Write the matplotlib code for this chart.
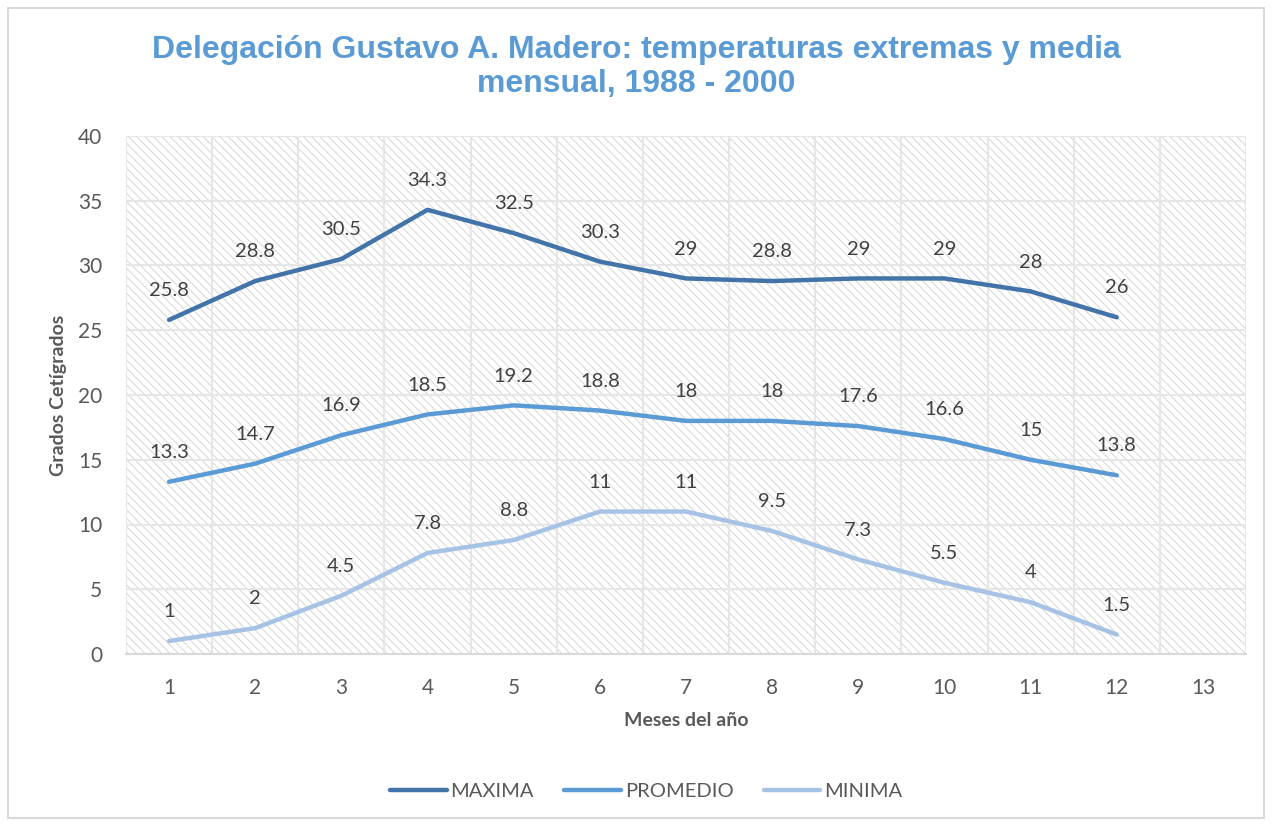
import matplotlib
matplotlib.use("Agg")
import matplotlib.pyplot as plt
from matplotlib.patches import Rectangle

months = list(range(1, 13))
maxima = [25.8, 28.8, 30.5, 34.3, 32.5, 30.3, 29, 28.8, 29, 29, 28, 26]
promedio = [13.3, 14.7, 16.9, 18.5, 19.2, 18.8, 18, 18, 17.6, 16.6, 15, 13.8]
minima = [1, 2, 4.5, 7.8, 8.8, 11, 11, 9.5, 7.3, 5.5, 4, 1.5]
x_ticks = list(range(1, 14))

series = [
    ("MAXIMA", maxima, "#4274AA"),
    ("PROMEDIO", promedio, "#5B9BD5"),
    ("MINIMA", minima, "#A6C3E6"),
]

plt.rcParams["font.family"] = ["Lato", "DejaVu Sans"]
plt.rcParams["hatch.linewidth"] = 0.8
text_color = "#595959"

fig = plt.figure(figsize=(12.72, 8.24), dpi=100)
# plot area in pixels: left 126, right 1246, top 136, bottom 654
ax = fig.add_axes([126 / 1272, 1 - 654 / 824, 1120 / 1272, 518 / 824])

# outer chart border
fig.patches.append(Rectangle((8 / 1272, 6 / 824), 1256 / 1272, 810 / 824,
                             transform=fig.transFigure, fill=False,
                             edgecolor="#d9d9d9", linewidth=1.5))

# hatched background
ax.add_patch(Rectangle((0, 0), 1, 1, transform=ax.transAxes, facecolor="white",
                       edgecolor="#dadada", hatch="\\\\\\\\", linewidth=0, zorder=0))

ax.set_xlim(0.5, 13.5)
ax.set_ylim(0, 40)
ax.set_yticks(range(0, 41, 5))
ax.set_xticks(x_ticks)
ax.set_xticks([i + 0.5 for i in range(0, 14)], minor=True)
ax.grid(True, which="minor", axis="x", color="#e6e6e6", linewidth=1.5, zorder=1)
ax.grid(True, which="major", axis="y", color="#e6e6e6", linewidth=1.5, zorder=1)
ax.tick_params(which="both", length=0, labelsize=15, labelcolor=text_color)
ax.tick_params(axis="x", pad=17)
ax.tick_params(axis="y", pad=17)
for s in ["top", "right", "left"]:
    ax.spines[s].set_visible(False)
ax.spines["bottom"].set_color("#d9d9d9")
ax.spines["bottom"].set_linewidth(1.5)

for name, vals, color in series:
    ax.plot(months, vals, color=color, linewidth=3.2, label=name,
            solid_capstyle="round", zorder=3)
    for m, v in zip(months, vals):
        ax.annotate(f"{v:g}", (m, v), xytext=(0, 15), textcoords="offset points",
                    ha="center", va="bottom", fontsize=14.5, color="#404040", zorder=4)

ax.set_xlabel("Meses del año", fontsize=14, fontweight="bold", color=text_color, labelpad=10)
ax.set_ylabel("Grados Cetígrados", fontsize=14, fontweight="bold", color=text_color, labelpad=8)

fig.text(0.5, 1 - 67 / 824,
         "Delegación Gustavo A. Madero: temperaturas extremas y media\nmensual, 1988 - 2000",
         ha="center", va="center", fontsize=23, fontweight="bold", color="#5B9BD5",
         family="Liberation Sans", linespacing=1.15)

leg = fig.legend(loc="center", bbox_to_anchor=(0.508, 1 - 791 / 824), ncol=3, frameon=False,
                 fontsize=14.5, handlelength=2.8, columnspacing=1.5, handletextpad=0.2)
for t in leg.get_texts():
    t.set_color(text_color)

fig.savefig("out.png", dpi=100)
